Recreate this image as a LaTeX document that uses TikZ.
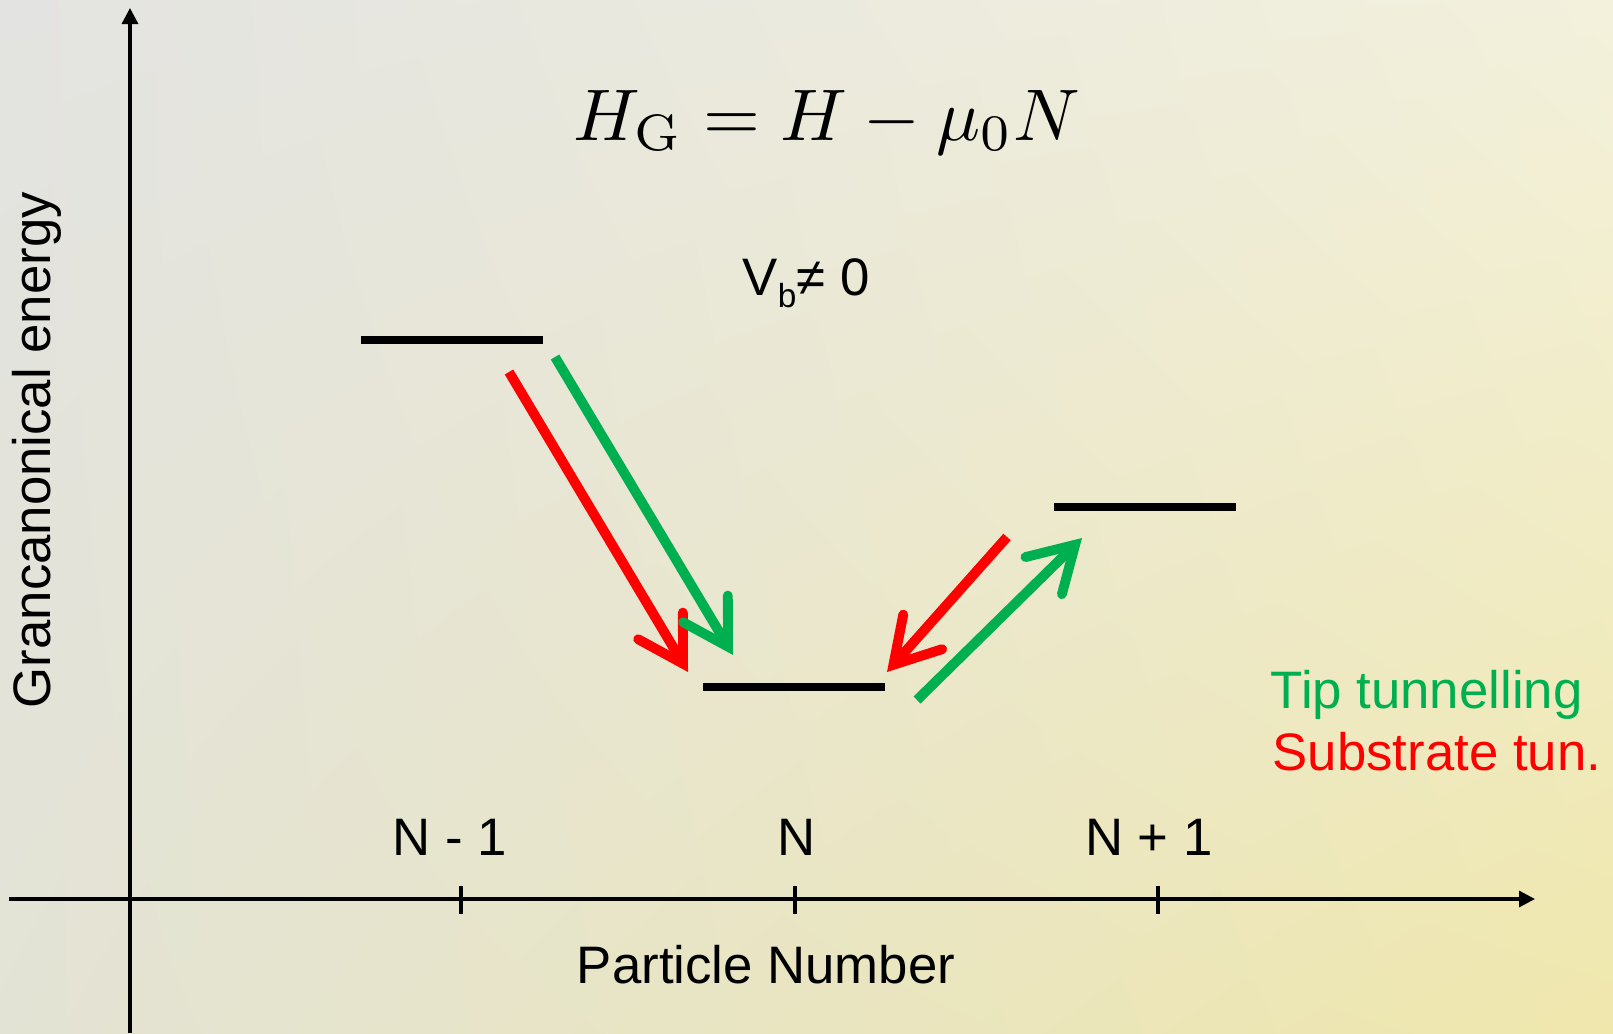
\documentclass[tikz,border=0pt]{standalone}
\usepackage[no-math]{fontspec}
\usepackage{xcolor}
\usepackage{tikz}
\usetikzlibrary{arrows.meta, positioning, shadings}
\newfontfamily\arialfont{Liberation Sans}
\definecolor{tipgreen}{HTML}{00B050}
\definecolor{subred}{HTML}{FF0000}
\definecolor{bgUL}{HTML}{E3E3E1}
\definecolor{bgUR}{HTML}{F3F1DC}
\definecolor{bgLL}{HTML}{E3E3D5}
\definecolor{bgLR}{HTML}{EFE7AC}
\tikzset{
  axisline/.style={line width=0.9pt, black},
  axisarrow/.style={axisline, -{Triangle[length=1.6mm, width=1.6mm]}},
  level/.style={fill=black, inner sep=0pt, minimum width=1.81cm, minimum height=0.08cm},
  tunnel/.style={line width=2.8pt,
                 -{Straight Barb[length=4.4mm, width=5.2mm, line cap=round, line join=miter]}},
  labeltext/.style={font=\arialfont\fontsize{15}{18}\selectfont, inner sep=0pt},
  tiplabel/.style={labeltext, text=tipgreen},
  sublabel/.style={labeltext, text=subred}
}

\begin{document}
\begin{tikzpicture}[x=0.01cm, y=-0.01cm]

% Background
\useasboundingbox (0,0) rectangle (1613,1033);
\shade[upper left=bgUL, upper right=bgUR, lower left=bgLL, lower right=bgLR]
  (0,0) rectangle (1613,1033);

% Axes
\coordinate (ybot)   at (130,1033);
\coordinate (ytop)   at (130,8);
\coordinate (xleft)  at (9,899);
\coordinate (xright) at (1535,899);
\draw[axisarrow] (ybot) -- (ytop);
\draw[axisarrow] (xleft) -- (xright);
\foreach \x/\n in {461/tm, 795/t0, 1158/tp} {
  \coordinate (\n) at (\x,899);
  \draw[axisline] (\x,886) -- (\x,914);
}

% Axis labels
\node[labeltext, anchor=base] (lblm) at (450,855) {N - 1};
\node[labeltext, anchor=base] (lbl0) at (797,855) {N};
\node[labeltext, anchor=base] (lblp) at (1149,855) {N + 1};
\node[labeltext, anchor=base] (xlab) at (766,983) {Particle Number};
\node[labeltext, anchor=base, rotate=90] (ylab) at (50,450) {Grancanonical energy};

% Formula and bias
\node[anchor=base, scale=2.08, inner sep=0pt] (hg) at (827,140) {$H_{\mathrm{G}} = H - \mu_0 N$};
\node[labeltext, anchor=base west] (vb) at (742,295)
  {V\raisebox{-3.6pt}{\arialfont\fontsize{9.5}{11}\selectfont b}≠ 0};

% Energy levels
\node[level] (levm) at (452,340) {};
\node[level] (lev0) at (794,687) {};
\node[level] (levp) at (1145,507) {};

% Arrow ends
\coordinate (rds) at (509,372);
\coordinate (rde) at (688,672);
\coordinate (gds) at (555,357);
\coordinate (gde) at (733,655);
\coordinate (rus) at (1007,537);
\coordinate (rue) at (887,672);
\coordinate (gus) at (917,700);
\coordinate (gue) at (1082,538);

% Tunnelling arrows
\draw[tunnel, subred]   (rds) -- (rde);
\draw[tunnel, tipgreen] (gds) -- (gde);
\draw[tunnel, subred]   (rus) -- (rue);
\draw[tunnel, tipgreen] (gus) -- (gue);

% Legend
\node[tiplabel, anchor=base west] (legtip) at (1270,708) {Tip tunnelling};
\node[sublabel, anchor=base west] (legsub) at (1272,770) {Substrate tun.};

\end{tikzpicture}
\end{document}
